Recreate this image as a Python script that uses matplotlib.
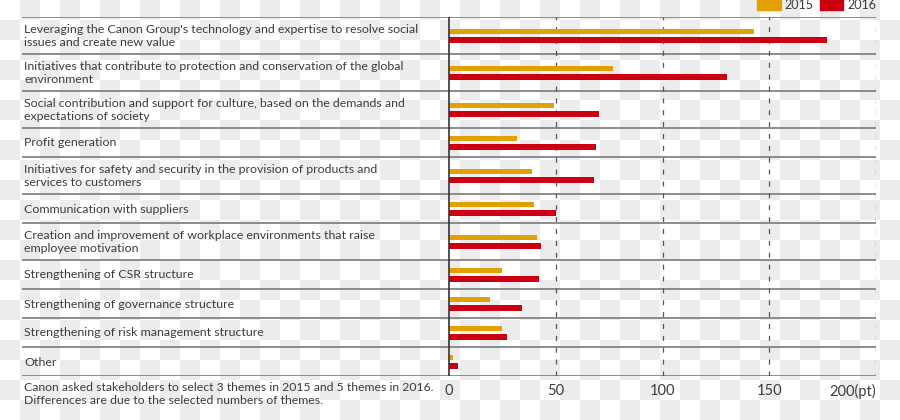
import numpy as np
import matplotlib
matplotlib.use("Agg")
import matplotlib.pyplot as plt
from matplotlib.patches import Patch

themes = [
    "Leveraging the Canon Group's technology and expertise to resolve social\nissues and create new value",
    "Initiatives that contribute to protection and conservation of the global\nenvironment",
    "Social contribution and support for culture, based on the demands and\nexpectations of society",
    "Profit generation",
    "Initiatives for safety and security in the provision of products and\nservices to customers",
    "Communication with suppliers",
    "Creation and improvement of workplace environments that raise\nemployee motivation",
    "Strengthening of CSR structure",
    "Strengthening of governance structure",
    "Strengthening of risk management structure",
    "Other",
]
pts_2015 = [143, 77, 49, 32, 39, 40, 41, 25, 19, 25, 2]
pts_2016 = [177, 130, 70, 69, 68, 50, 43, 42, 34, 27, 4]
xticks = [0, 50, 100, 150, 200]
xticklabels = ["0", "50", "100", "150", "200(pt)"]
note = ("Canon asked stakeholders to select 3 themes in 2015 and 5 themes in 2016.\n"
        "Differences are due to the selected numbers of themes.")

ORANGE = "#E3A000"
RED = "#CC0010"
TXT = "#3c3c3c"

plt.rcParams["font.family"] = ["Lato", "DejaVu Sans"]

fig = plt.figure(figsize=(9, 4.2), dpi=100)

# transparent-background checkerboard of the source image
bg = fig.add_axes([0, 0, 1, 1], zorder=-5)
yy, xx = np.mgrid[0:21, 0:45]
checker = np.where((xx + yy) % 2 == 1, 0.922, 1.0)
bg.imshow(checker, cmap="gray", vmin=0, vmax=1, interpolation="nearest",
          extent=(0, 900, 420, 0), aspect="auto")
bg.set_axis_off()

# axes spans pixel rows 17..376, so y data == pixel rows
ax = fig.add_axes([22 / 900, 44 / 420, 854 / 900, 359 / 420])
ax.set_facecolor("none")

# row heights from number of label lines
heights = np.array([29 + 8 * t.count("\n") for t in themes], dtype=float)
edges = 17 + np.concatenate([[0], np.cumsum(heights)])
centers = (edges[:-1] + edges[1:]) / 2

ax.barh(centers - 4.3, pts_2015, height=5.2, color=ORANGE, zorder=2)
ax.barh(centers + 4.6, pts_2016, height=5.6, color=RED, zorder=2)

for e in edges:
    ax.axhline(e, color="#7a7a7a", lw=1.2, zorder=1)
for xv in xticks[1:]:
    ax.axvline(xv, color="#555555", lw=0.9, dashes=(4, 5.5), zorder=1)
ax.axvline(0, color="#333333", lw=1.2, zorder=3)

for c, t in zip(centers, themes):
    ax.text(-199, c + 0.5, t, ha="left", va="center", fontsize=8.9, color=TXT,
            linespacing=1.3)

ax.text(-199, 394, note, ha="left", va="center", fontsize=8.8, color=TXT,
        linespacing=1.3, clip_on=False)

ax.set_xlim(-200.1, 200)
ax.set_ylim(376, 17)
ax.set_yticks([])
ax.set_xticks(xticks)
ax.set_xticklabels(xticklabels, fontsize=10.5, color=TXT)
ax.get_xticklabels()[-1].set_ha("right")
ax.tick_params(axis="x", length=0, pad=6)
for s in ax.spines.values():
    s.set_visible(False)

handles = [Patch(color=ORANGE, label="2015"), Patch(color=RED, label="2016")]
leg = ax.legend(handles=handles, loc="lower right", bbox_to_anchor=(1.0, 1.018),
                ncol=2, frameon=False, fontsize=9, handlelength=1.9,
                handleheight=0.95, columnspacing=0.5, handletextpad=0.3,
                borderaxespad=0, borderpad=0)
for t in leg.get_texts():
    t.set_color(TXT)

fig.savefig("out.png", dpi=100)
